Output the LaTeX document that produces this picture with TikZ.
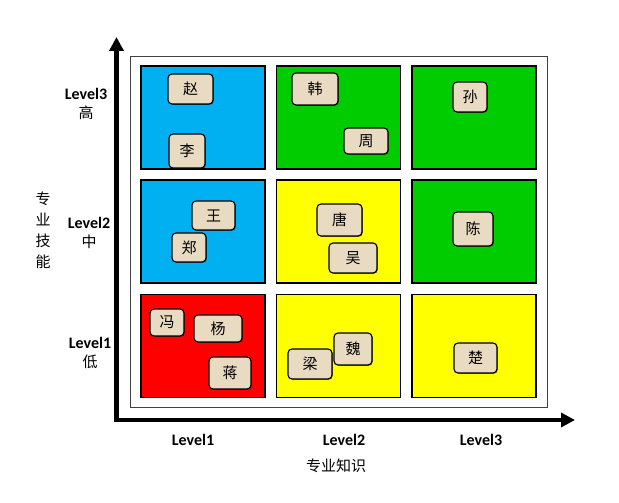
\documentclass[tikz,border=0pt]{standalone}
\usepackage{fontspec}
\setmainfont{Carlito}
\newfontfamily\cjk{Noto Sans CJK SC}
\usepackage{xcolor}
\usetikzlibrary{arrows.meta, positioning, shadows}

\definecolor{cellblue}{HTML}{00B0F0}
\definecolor{cellgreen}{HTML}{00CC00}
\definecolor{cellyellow}{HTML}{FFFF00}
\definecolor{cellred}{HTML}{FF0000}
\definecolor{namefill}{HTML}{E9DBC1}

\begin{document}
\begin{tikzpicture}[x=1pt, y=-1pt,
  cell/.style={rectangle, draw=black, line width=1.1pt, minimum width=124pt,
    minimum height=103pt, inner sep=0pt},
  namebox/.style={rectangle, draw=black, fill=namefill, rounded corners=4pt, line width=1.1pt,
    inner sep=0pt, font=\cjk\fontsize{15}{17}\selectfont,
    drop shadow={shadow xshift=0.8pt, shadow yshift=-0.8pt, opacity=0.5, fill=black}},
  lvl/.style={align=center, font=\bfseries\fontsize{16}{19}\selectfont},
  axtitle/.style={font=\cjk\fontsize{15}{17}\selectfont},
  axis/.style={line width=4.5pt, line join=miter,
    {Triangle[length=14pt, width=14pt]}-{Triangle[length=14pt, width=14pt]}}
]
  \useasboundingbox (0,0) rectangle (619,503);

  % frame around the grid
  \node[rectangle, draw=black!75, line width=1pt, minimum width=417pt, minimum height=350pt,
    drop shadow={shadow xshift=1pt, shadow yshift=-1pt, opacity=0.4, fill=black}, fill=white]
    (frame) at (338.5,232) {};

  % grid cells (row 3 = top)
  \node[cell, fill=cellblue]   (c13) at (203,  117.5) {};
  \node[cell, fill=cellgreen]  (c23) at (338.5,117.5) {};
  \node[cell, fill=cellgreen]  (c33) at (474,  117.5) {};
  \node[cell, fill=cellblue]   (c12) at (203,  231.5) {};
  \node[cell, fill=cellyellow] (c22) at (338.5,231.5) {};
  \node[cell, fill=cellgreen]  (c32) at (474,  231.5) {};
  \node[cell, fill=cellred]    (c11) at (203,  346) {};
  \node[cell, fill=cellyellow] (c21) at (338.5,346) {};
  \node[cell, fill=cellyellow] (c31) at (474,  346) {};

  % names
  \node[namebox, minimum width=45pt, minimum height=30pt] (zhao)  at (190.5,89)  {赵};
  \node[namebox, minimum width=36pt, minimum height=34pt] (li)    at (187,151)   {李};
  \node[namebox, minimum width=46pt, minimum height=32pt] (han)   at (315,89)    {韩};
  \node[namebox, minimum width=44pt, minimum height=26pt] (zhou)  at (366,141)   {周};
  \node[namebox, minimum width=34pt, minimum height=30pt] (sun)   at (470,97)    {孙};
  \node[namebox, minimum width=43pt, minimum height=29pt] (wang)  at (213.5,215.5) {王};
  \node[namebox, minimum width=34pt, minimum height=29pt] (zheng) at (189,247.5) {郑};
  \node[namebox, minimum width=45pt, minimum height=32pt] (tang)  at (339.5,220) {唐};
  \node[namebox, minimum width=48pt, minimum height=30pt] (wu)    at (353,258)   {吴};
  \node[namebox, minimum width=40pt, minimum height=34pt] (chen)  at (473,229)   {陈};
  \node[namebox, minimum width=34pt, minimum height=27pt] (feng)  at (167,322.5) {冯};
  \node[namebox, minimum width=48pt, minimum height=27pt] (yang)  at (218,328.5) {杨};
  \node[namebox, minimum width=42pt, minimum height=32pt] (jiang) at (230,373)   {蒋};
  \node[namebox, minimum width=44pt, minimum height=30pt] (liang) at (310,364)   {梁};
  \node[namebox, minimum width=38pt, minimum height=32pt] (wei)   at (353,349)   {魏};
  \node[namebox, minimum width=43pt, minimum height=30pt] (chu)   at (475.5,358) {楚};

  % axes
  \coordinate (origin) at (116.5,420);
  \coordinate (ytip)   at (116.5,37);
  \coordinate (xtip)   at (575,420);
  \draw[axis] (ytip) -- (origin) -- (xtip);

  % level labels
  \node[lvl] (y3) at (86,104)  {Level3\\{\cjk\mdseries\fontsize{15}{17}\selectfont 高}};
  \node[lvl] (y2) at (89,233)  {Level2\\{\cjk\mdseries\fontsize{15}{17}\selectfont 中}};
  \node[lvl] (y1) at (90,353)  {Level1\\{\cjk\mdseries\fontsize{15}{17}\selectfont 低}};
  \node[lvl] (x1) at (193,440) {Level1};
  \node[lvl] (x2) at (344,440) {Level2};
  \node[lvl] (x3) at (481,440) {Level3};

  \node[axtitle, align=center, font=\cjk\fontsize{15}{21}\selectfont] (ytitle) at (43,230)
    {专\\业\\技\\能};
  \node[axtitle] (xtitle) at (336,466) {专业知识};
\end{tikzpicture}
\end{document}
